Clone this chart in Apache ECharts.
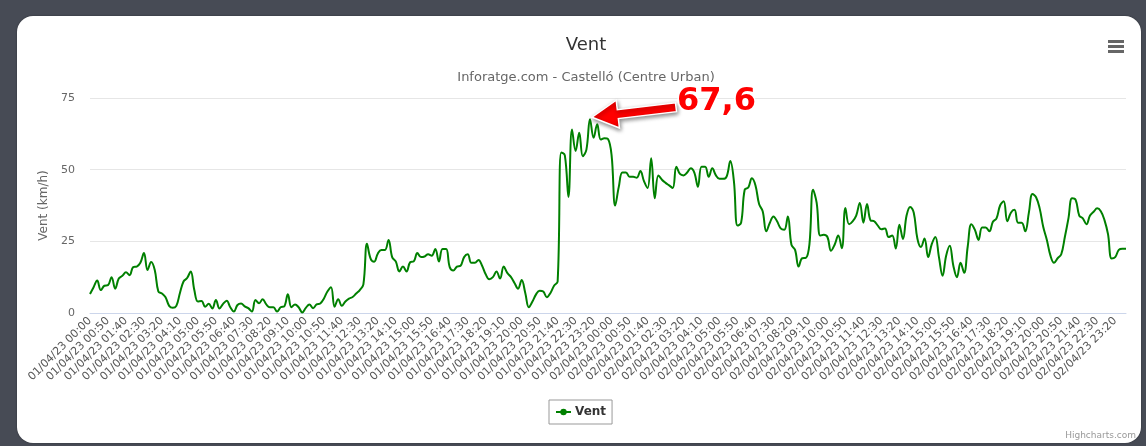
<!DOCTYPE html>
<html>
<head>
<meta charset="utf-8">
<script src="https://cdn.jsdelivr.net/npm/echarts@6/dist/echarts.min.js"></script>
<style>
  html, body { margin: 0; padding: 0; background: #474b55; }
  #card {
    position: absolute; left: 17px; top: 16px; width: 1124px; height: 427px;
    background: #fff; border-radius: 16px; box-shadow: 0 0 2px rgba(0,0,0,0.4);
  }
  #main { position: absolute; left: 0; top: 0; width: 1146px; height: 446px; }
</style>
</head>
<body>
<div id="card"></div>
<div id="main"></div>
<script>
// readings every 10 minutes (one extra reading just before midnight on day 1)
const days = ["01/04/23", "02/04/23"];
const times = [];
for (const d of days) {
  for (let m = 0; m < 1440; m += 10) {
    const hh = String(Math.floor(m / 60)).padStart(2, "0");
    const mm = String(m % 60).padStart(2, "0");
    times.push(d + " " + hh + ":" + mm);
  }
}
times.splice(144, 0, "01/04/23 23:55");

const yTicks = [0, 25, 50, 75];

// wind speed, km/h
const vent = [
  6.6, 9, 11.3, 8, 9.5, 9.7, 12.5, 8.5, 12, 13,
  14.2, 13.2, 16, 16.2, 17.5, 20.9, 15, 17.8, 15, 7.5,
  6.8, 5.5, 2.5, 1.8, 2.5, 7, 11, 12.2, 14.5, 8,
  4, 4.2, 2.2, 3.2, 1.6, 4.5, 1.6, 3.2, 4.3, 2,
  0.5, 2.8, 3.3, 2.3, 1.7, 0.5, 4.5, 3.4, 4.8, 3,
  2, 2, 0.5, 2, 2.3, 6.5, 2, 3, 2, 0.2,
  1.8, 3, 1.7, 3, 3.3, 5, 7.5, 9, 2.2, 4.8,
  2.5, 4, 5, 5.6, 6.8, 8, 10, 24.2, 19, 17.9,
  20.7, 22, 22, 25.5, 19.5, 18, 14.5, 16.2, 14.5, 17.7,
  18, 20.9, 19.5, 19.7, 20.5, 20, 22.3, 18, 22.3, 22.3,
  16, 14.8, 16.2, 16.5, 19.5, 20.5, 17.5, 17.5, 18.5, 16.5,
  13.5, 11.8, 12.5, 14.5, 12, 16.2, 14, 12.6, 10.5, 8.5,
  11.5, 7, 2, 4, 6.5, 7.8, 7.5, 5.5, 7, 9.5,
  11, 56, 55, 40.5, 64, 56.5, 62.9, 54.7, 57, 67.6,
  61.1, 65.8, 60.5, 61, 60.7, 55, 37.5, 44, 49, 49,
  47.5, 47.5, 47.2, 49.5, 46, 43.6, 54, 40, 48, 46.5,
  45.4, 44.5, 43.6, 51, 48.5, 48, 49, 50.5, 49, 44,
  51, 51, 47.5, 50.5, 48, 46.8, 46.8, 47.7, 53, 46,
  30.5, 31.5, 43, 43.8, 47, 44.5, 38, 35.5, 28.5, 31.5,
  33.7, 32, 29.5, 29, 33.7, 23.8, 22, 16.2, 19.1, 19.2,
  24, 43, 38.5, 27, 27.3, 26.5, 21.7, 23.8, 27, 22.6,
  36.6, 31, 32, 34, 38.4, 31.5, 38, 32.3, 32, 30.5,
  29.2, 29.5, 26.5, 27, 22.5, 30.8, 25.8, 34, 37, 35,
  26, 23, 26, 19.5, 24, 26.5, 19.5, 13, 20, 23.5,
  16.5, 12.5, 17.5, 14, 23.2, 31, 29, 25.5, 29.8, 29.8,
  28.5, 31.8, 33, 37.5, 39, 32, 35, 36, 31.5, 31.5,
  28.5, 35, 41.5, 40.4, 36.5, 30, 25.5, 20, 17.5, 19.1,
  20.5, 26.5, 33, 40, 39.5, 34, 33, 31, 34, 35.3,
  36.5, 35.5, 32.5, 27.5, 19, 19.5, 22, 22.4, 22.4
];

const peakLabel = "67,6";
const font = "'DejaVu Sans', Verdana, sans-serif";

var myChart = echarts.init(document.getElementById("main"));
var option = {
  backgroundColor: "transparent",
  animation: false,
  textStyle: { fontFamily: font },
  title: [
    {
      text: "Vent",
      left: 581, top: 31, textAlign: "center",
      textStyle: { fontFamily: font, fontSize: 18, fontWeight: "normal", color: "#333" }
    },
    {
      text: "Inforatge.com - Castelló (Centre Urban)",
      left: 581, top: 66, textAlign: "center",
      textStyle: { fontFamily: font, fontSize: 13, fontWeight: "normal", color: "#666" }
    }
  ],
  legend: {
    left: 549, top: 400,
    padding: [6, 6],
    borderColor: "#999", borderWidth: 1,
    itemWidth: 15, itemHeight: 8, 
    textStyle: { fontFamily: font, fontSize: 12, fontWeight: "bold", color: "#333", padding: [0, 0, 0, -1] },
    data: ["Vent"]
  },
  grid: { left: 90, right: 20, top: 98, bottom: 133 },
  xAxis: {
    type: "category",
    data: times,
    boundaryGap: false,
    axisLine: { lineStyle: { color: "#ccd6eb" } },
    axisTick: { show: false },
    axisLabel: {
      interval: 4, rotate: 45, margin: 6,
      fontFamily: font, fontSize: 11, color: "#555"
    }
  },
  yAxis: {
    type: "value",
    min: yTicks[0], max: yTicks[yTicks.length - 1], interval: 25,
    name: "Vent (km/h)",
    nameLocation: "middle", nameGap: 37,
    nameTextStyle: { fontFamily: font, fontSize: 12, color: "#666" },
    axisLabel: { fontFamily: font, fontSize: 11, color: "#666", margin: 15 },
    splitLine: { lineStyle: { color: "#e6e6e6" } }
  },
  series: [
    {
      name: "Vent",
      type: "line",
      data: vent,
      smooth: 0.4,
      showSymbol: false,
      symbol: "circle",
      symbolSize: 8,
      color: "#008000",
      lineStyle: { width: 2, color: "#008000" }
    }
  ]
};
option && myChart.setOption(option);

// annotation arrow pointing at the peak
const peakIdx = vent.indexOf(67.6);
const p = myChart.convertToPixel({ seriesIndex: 0 }, [peakIdx, 67.6]);
const tip = [p[0] + 2, p[1] - 2];
const tail = [tip[0] + 84, tip[1] - 10];
const len = Math.hypot(tail[0] - tip[0], tail[1] - tip[1]);
const d = [(tail[0] - tip[0]) / len, (tail[1] - tip[1]) / len];
const n = [-d[1], d[0]];
const pt = (base, k, w) => [base[0] + d[0] * k + n[0] * w, base[1] + d[1] * k + n[1] * w];
const arrow = [
  tip,
  pt(tip, 26, 14), pt(tip, 26, 4.5), pt(tip, len, 4.5),
  pt(tip, len, -4.5), pt(tip, 26, -4.5), pt(tip, 26, -14)
];

myChart.setOption({
  graphic: [
    {
      type: "polygon",
      shape: { points: arrow },
      style: {
        fill: "#ff0000", stroke: "#fff", lineWidth: 1.5,
        shadowBlur: 4, shadowColor: "rgba(0,0,0,0.45)", shadowOffsetX: 1, shadowOffsetY: 2
      },
      z: 100
    },
    {
      type: "text",
      x: tail[0] + 1, y: tail[1] - 6,
      style: {
        text: peakLabel,
        fontFamily: font,
        fontSize: 32, fontWeight: "bold",
        fill: "#ff0000", stroke: "#fff", lineWidth: 3,
        textVerticalAlign: "middle",
        shadowBlur: 4, shadowColor: "rgba(0,0,0,0.45)", shadowOffsetX: 1, shadowOffsetY: 2
      },
      z: 100
    },
    { type: "rect", shape: { x: 1108, y: 40, width: 16, height: 3 }, style: { fill: "#666" } },
    { type: "rect", shape: { x: 1108, y: 45, width: 16, height: 3 }, style: { fill: "#666" } },
    { type: "rect", shape: { x: 1108, y: 50, width: 16, height: 3 }, style: { fill: "#666" } },
    {
      type: "text",
      x: 1136, y: 436,
      style: {
        text: "Highcharts.com",
        fontFamily: font, fontSize: 9, fill: "#999",
        textAlign: "right", textVerticalAlign: "middle"
      }
    }
  ]
});
</script>
</body>
</html>
